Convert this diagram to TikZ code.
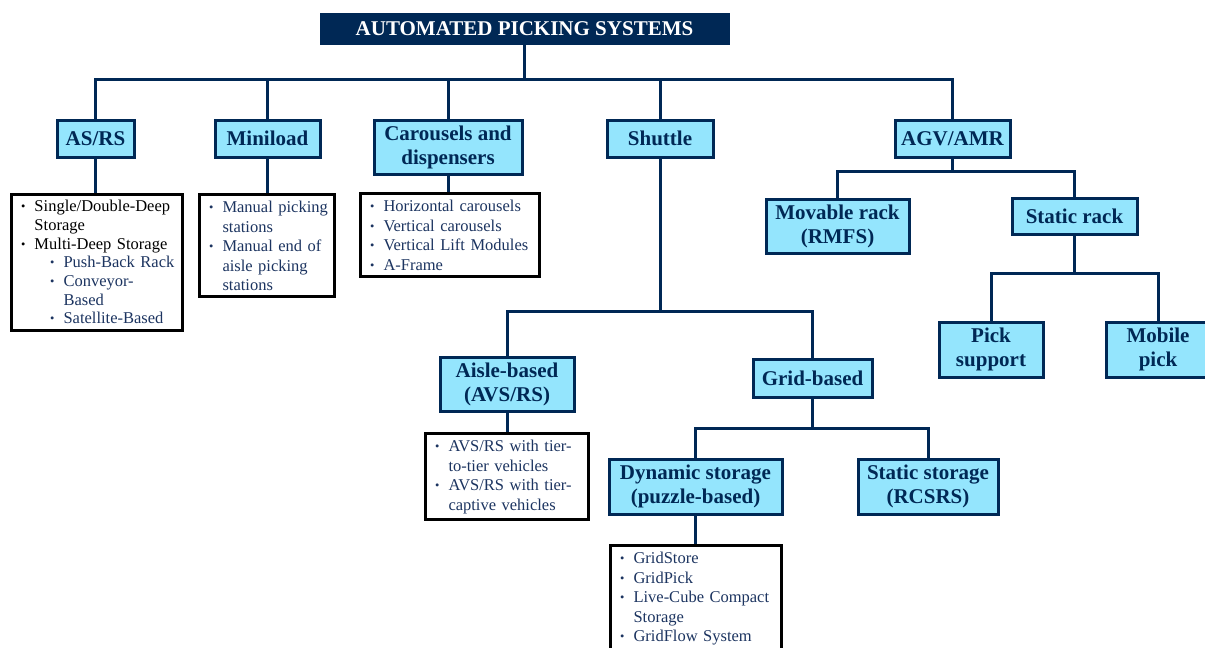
\documentclass[tikz,border=0pt]{standalone}
\usepackage{fontspec}
\setmainfont{Liberation Serif}
\usepackage{enumitem}
\usetikzlibrary{positioning}

\definecolor{navy}{RGB}{0,40,85}
\definecolor{skyfill}{RGB}{148,229,253}
\definecolor{itemblue}{RGB}{28,52,96}

\newcommand{\dotlabel}{\raisebox{1pt}{\scalebox{0.75}{\textbullet}}}
\setlist[itemize,1]{label=\dotlabel, leftmargin=17pt, labelsep=9pt, itemsep=0pt, topsep=0pt, parsep=0pt, partopsep=0pt}
\setlist[itemize,2]{label=\dotlabel, leftmargin=29pt, labelsep=9pt, itemsep=0pt, topsep=0pt, parsep=0pt, partopsep=0pt}

\begin{document}
\begin{tikzpicture}[
    x=1pt, y=-1pt,
    head/.style={rectangle, draw=navy, fill=navy, text=white, line width=1pt,
        font=\fontsize{21}{24}\selectfont\bfseries, minimum width=409pt, minimum height=31pt},
    cat/.style={rectangle, draw=navy, fill=skyfill, text=navy, line width=3pt,
        font=\fontsize{21}{24}\selectfont\bfseries, align=center, inner sep=2pt},
    list/.style={rectangle, draw=black, fill=white, text=itemblue, line width=3pt,
        anchor=north west, font=\fontsize{16.5}{19.5}\selectfont,
        inner xsep=6pt, inner ysep=1.5pt,
        execute at begin node={\vspace*{-3pt}},
        execute at end node={\endgraf\vspace{4.5pt}}},
    link/.style={draw=navy, line width=3pt}
]
    \useasboundingbox (0,0) rectangle (1205,648);

    \node[head] (root) at (524.5,28.5) {AUTOMATED PICKING SYSTEMS};

    % first level
    \node[cat, minimum width=77pt, minimum height=37pt] (asrs) at (95.5,138.5) {AS/RS};
    \node[cat, minimum width=105pt, minimum height=37pt] (miniload) at (267.5,138.5) {Miniload};
    \node[cat, minimum width=148pt, minimum height=54pt] (carousel) at (448,147) {Carousels and\\dispensers};
    \node[cat, minimum width=106pt, minimum height=37pt] (shuttle) at (660,138.5) {Shuttle};
    \node[cat, minimum width=115pt, minimum height=37pt] (agv) at (952.5,138.5) {AGV/AMR};

    % item lists
    \node[list, text width=159pt, minimum width=171pt] (asrslist) at (10,193) {%
        \fontsize{16.5}{18.7}\selectfont\color{black}
        \begin{itemize}
            \item Single/Double-Deep Storage
            \item Multi-Deep Storage
            \begin{itemize}\color{itemblue}
                \item Push-Back Rack
                \item Conveyor-\\Based
                \item Satellite-Based
            \end{itemize}
        \end{itemize}};
    \node[list, text width=123pt, minimum width=135pt] (minilist) at (198,193) {%
        \begin{itemize}
            \item Manual picking stations
            \item Manual end of aisle picking stations
        \end{itemize}};
    \node[list, text width=167pt, minimum width=179pt] (carlist) at (359,192) {%
        \begin{itemize}
            \item Horizontal carousels
            \item Vertical carousels
            \item Vertical Lift Modules
            \item A-Frame
        \end{itemize}};

    % shuttle branch
    \node[cat, minimum width=134pt, minimum height=54pt] (aisle) at (507,384) {Aisle-based\\(AVS/RS)};
    \node[cat, minimum width=119pt, minimum height=38pt] (grid) at (812.5,378) {Grid-based};
    \node[list, text width=151pt, minimum width=163pt] (aislelist) at (424,432) {%
        \begin{itemize}
            \item AVS/RS with tier-\\to-tier vehicles
            \item AVS/RS with tier-\\captive vehicles
        \end{itemize}};
    \node[cat, minimum width=173pt, minimum height=55pt] (dynamic) at (695.5,486.5) {Dynamic storage\\(puzzle-based)};
    \node[cat, minimum width=140pt, minimum height=55pt] (staticstore) at (928,486.5) {Static storage\\(RCSRS)};
    \node[list, text width=159pt, minimum width=171pt] (gridlist) at (609,544) {%
        \begin{itemize}
            \item GridStore
            \item GridPick
            \item Live-Cube Compact Storage
            \item GridFlow System
        \end{itemize}};

    % AGV/AMR branch
    \node[cat, minimum width=143pt, minimum height=54pt] (movable) at (837.5,226) {Movable rack\\(RMFS)};
    \node[cat, minimum width=125pt, minimum height=36pt] (staticrack) at (1074.5,216) {Static rack};
    \node[cat, minimum width=104pt, minimum height=55pt] (picksup) at (991,349.5) {Pick\\support};
    \node[cat, minimum width=104pt, minimum height=55pt] (mobile) at (1158,349.5) {Mobile\\pick};

    % bus points
    \coordinate (topbus) at (524.5,79);
    \coordinate (shbus) at (660,311);
    \coordinate (gridbus) at (812.5,428);
    \coordinate (agvbus) at (952.5,171);
    \coordinate (rackbus) at (1074.5,273);

    % connectors
    \draw[link] (root) -- (topbus);
    \draw[link] (topbus) -| (asrs);
    \draw[link] (topbus) -| (miniload);
    \draw[link] (topbus) -| (carousel);
    \draw[link] (topbus) -| (shuttle);
    \draw[link] (topbus) -| (agv);

    \draw[link] (asrs) -- (asrs |- asrslist.north);
    \draw[link] (miniload) -- (miniload |- minilist.north);
    \draw[link] (carousel) -- (carousel |- carlist.north);

    \draw[link] (shuttle) -- (shbus);
    \draw[link] (shbus) -| (aisle);
    \draw[link] (shbus) -| (grid);
    \draw[link] (aisle) -- (aisle |- aislelist.north);
    \draw[link] (grid) -- (gridbus);
    \draw[link] (gridbus) -| (dynamic);
    \draw[link] (gridbus) -| (staticstore);
    \draw[link] (dynamic) -- (dynamic |- gridlist.north);

    \draw[link] (agv) -- (agvbus);
    \draw[link] (agvbus) -| (movable);
    \draw[link] (agvbus) -| (staticrack);
    \draw[link] (staticrack) -- (rackbus);
    \draw[link] (rackbus) -| (picksup);
    \draw[link] (rackbus) -| (mobile);
\end{tikzpicture}
\end{document}
